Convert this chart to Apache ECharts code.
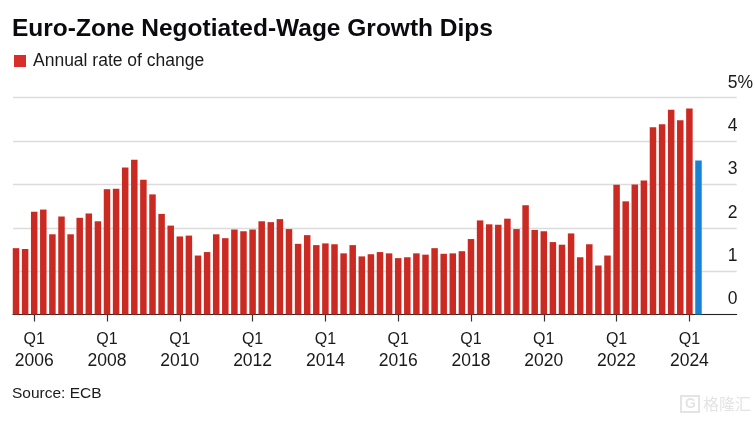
<!DOCTYPE html>
<html>
<head>
<meta charset="utf-8">
<style>
  html, body { margin: 0; padding: 0; background: #fff; }
  #main { width: 756px; height: 422px; }
</style>
<script src="https://cdn.jsdelivr.net/npm/echarts@6/dist/echarts.min.js"></script>
</head>
<body>
<div id="main"></div>
<script>
const FONT = '"Liberation Sans", Arial, sans-serif';

// first bar is Q3 2005, last is Q2 2024
const startYear = 2005;
const values = [
  1.53, 1.51, 2.37, 2.42, 1.85, 2.26, 1.85, 2.23, 2.33, 2.15,
  2.89, 2.90, 3.39, 3.57, 3.11, 2.77, 2.32, 2.05, 1.80, 1.82,
  1.36, 1.44, 1.85, 1.76, 1.96, 1.92, 1.96, 2.15, 2.13, 2.20,
  1.97, 1.63, 1.83, 1.60, 1.64, 1.62, 1.41, 1.60, 1.34, 1.39,
  1.44, 1.41, 1.30, 1.32, 1.41, 1.38, 1.53, 1.40, 1.41, 1.46,
  1.74, 2.17, 2.08, 2.07, 2.21, 1.97, 2.52, 1.95, 1.92, 1.67,
  1.61, 1.87, 1.32, 1.62, 1.13, 1.36, 2.99, 2.61, 3.00, 3.09,
  4.32, 4.39, 4.72, 4.48, 4.75, 3.55
];
const tickLabels = ["2006", "2008", "2010", "2012", "2014", "2016", "2018", "2020", "2022", "2024"];

// a bar's x is its quarter counted from the first bar
const tickPositions = tickLabels.map((y) => (Number(y) - startYear) * 4 - 2);
const barData = values.map((v, i) =>
  i === values.length - 1
    ? { value: [i, v], itemStyle: { color: "#1a82d2" } }
    : { value: [i, v] }
);

const myChart = echarts.init(document.getElementById("main"));
myChart.setOption({
  animation: false,
  backgroundColor: "#fff",
  title: [
    {
      text: "Euro-Zone Negotiated-Wage Growth Dips",
      left: 12,
      top: 17,
      padding: 0,
      textStyle: { fontFamily: FONT, fontSize: 24.5, fontWeight: "bold", color: "#0a0a0f" },
    },
    {
      text: "Source: ECB",
      left: 12,
      top: 386,
      padding: 0,
      textStyle: { fontFamily: FONT, fontSize: 15.5, fontWeight: "normal", color: "#1a1a1a" },
    },
  ],
  legend: {
    left: 14,
    top: 52,
    padding: 0,
    icon: "rect",
    itemWidth: 12,
    itemHeight: 12,
    itemStyle: { color: "#d82e2a" },
    textStyle: { fontFamily: FONT, fontSize: 17.5, color: "#1a1a1a", padding: [0, 0, 0, 2] },
    data: ["Annual rate of change"],
  },
  grid: { left: 13, right: 19, top: 97.7, bottom: 107.5 },
  xAxis: {
    type: "value",
    min: -0.33,
    max: 79.2,
    splitLine: { show: false },
    axisLine: { show: true, onZero: false, lineStyle: { color: "#222", width: 1.2 } },
    axisTick: {
      show: true,
      customValues: tickPositions,
      length: 7,
      lineStyle: { color: "#333", width: 1.2 },
    },
    axisLabel: {
      customValues: tickPositions,
      showMinLabel: true,
      showMaxLabel: true,
      hideOverlap: false,
      margin: 14,
      fontFamily: FONT,
      color: "#1a1a1a",
      formatter: (v) => "{q|Q1}\n{y|" + tickLabels[tickPositions.indexOf(v)] + "}",
      rich: {
        q: { fontFamily: FONT, fontSize: 16, lineHeight: 22, color: "#1a1a1a" },
        y: { fontFamily: FONT, fontSize: 17.5, lineHeight: 22, color: "#1a1a1a" },
      },
    },
  },
  yAxis: {
    type: "value",
    position: "right",
    min: 0,
    max: 5,
    interval: 1,
    axisLine: { show: false },
    axisTick: { show: false },
    splitLine: { lineStyle: { color: "#dcdcdc", width: 1.4 } },
    axisLabel: {
      margin: -9,
      align: "left",
      verticalAlign: "bottom",
      padding: [0, 0, 6, 0],
      fontFamily: FONT,
      fontSize: 17.5,
      color: "#1a1a1a",
      formatter: (v) => (v === 5 ? v + "%" : "" + v),
    },
  },
  series: [
    {
      name: "Annual rate of change",
      type: "bar",
      data: barData,
      barWidth: 6.5,
      itemStyle: { color: "#cb2a23" },
    },
  ],
  graphic: [
    {
      type: "rect",
      shape: { x: 681, y: 396, width: 18, height: 16 },
      style: { fill: "none", stroke: "#e4e4e4", lineWidth: 2 },
    },
    {
      type: "text",
      left: 685,
      top: 397,
      style: { text: "G", fontFamily: FONT, fontWeight: "bold", fontSize: 14, fill: "#e4e4e4" },
    },
    {
      type: "text",
      left: 703,
      top: 396,
      style: { text: "格隆汇", fontFamily: '"Noto Sans CJK SC"', fontSize: 16, fill: "#e4e4e4" },
    },
  ],
});
</script>
</body>
</html>
